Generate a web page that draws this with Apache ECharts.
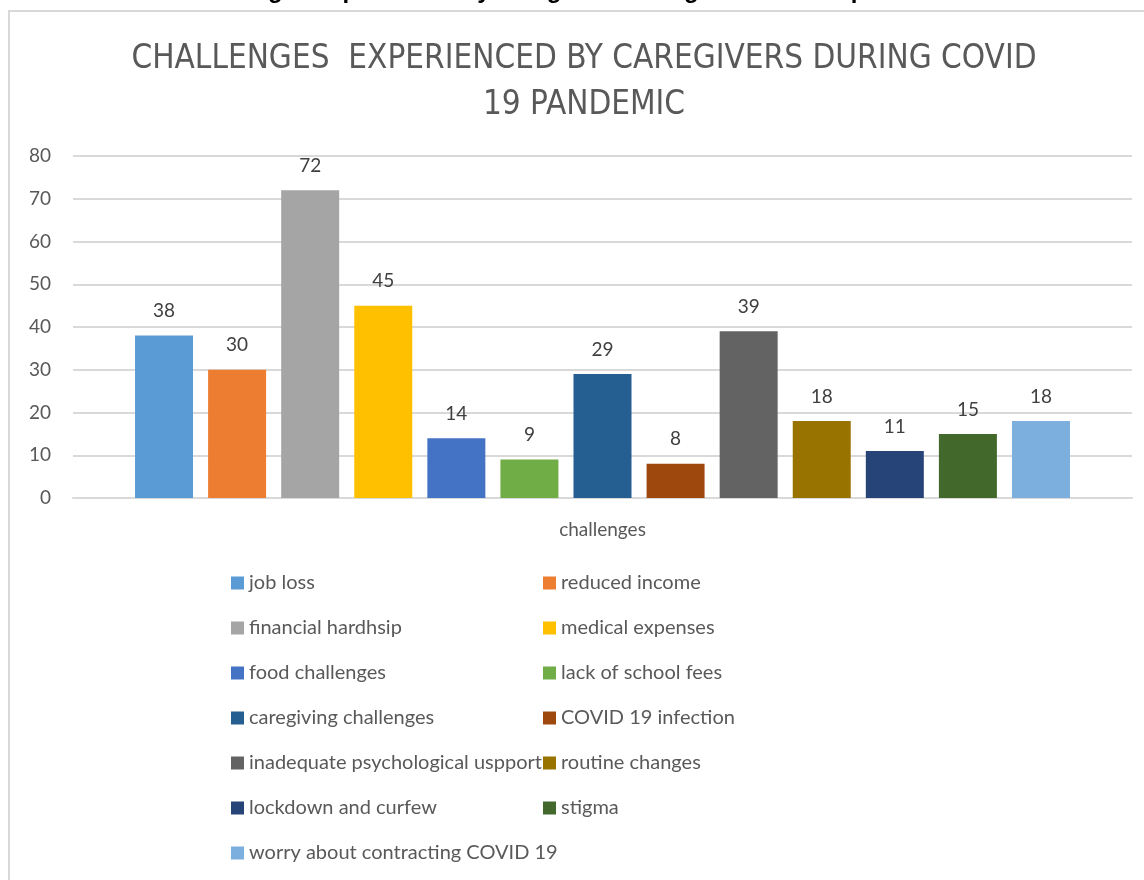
<!DOCTYPE html>
<html><head><meta charset="utf-8">
<script src="https://cdn.jsdelivr.net/npm/echarts@6/dist/echarts.min.js"></script>
<style>html,body{margin:0;padding:0;background:#fff}#c{width:1144px;height:880px}</style>
</head><body><div id="c"></div>
<script>
const categories = ['challenges'];
const seriesNames = ['job loss','reduced income','financial hardhsip','medical expenses','food challenges','lack of school fees','caregiving challenges','COVID 19 infection','inadequate psychological uspport','routine changes','lockdown and curfew','stigma','worry about contracting COVID 19'];
const seriesValues = [38,30,72,45,14,9,29,8,39,18,11,15,18];
const seriesColors = ['#5B9BD5','#ED7D31','#A5A5A5','#FFC000','#4472C4','#70AD47','#255E91','#9E480E','#636363','#997300','#264478','#43682B','#7CAFDD'];
const yTicks = [0,80,10];

const font = 'Lato, "Open Sans", sans-serif';
const chart = echarts.init(document.getElementById('c'));
const series = seriesNames.map((n,i)=>({
  name:n, type:'bar', data:[seriesValues[i]], barWidth:58, barGap:'26%',
  itemStyle:{color:seriesColors[i]},
  label:{show:true, position:'top', distance:15, color:'#404040', fontSize:19, fontFamily:font}
}));
chart.setOption({
  animation:false,
  title:{text:'CHALLENGES  EXPERIENCED BY CAREGIVERS DURING COVID\n19 PANDEMIC', left:579, top:31,
    textAlign:'center',
    textStyle:{fontFamily:'"Liberation Sans Narrow", "DejaVu Sans Condensed", sans-serif', fontWeight:'normal', fontSize:33, color:'#595959', lineHeight:46}},
  grid:{left:73, right:12, top:156, bottom:382, containLabel:false},
  xAxis:{type:'category', data:categories, axisTick:{show:false},
    axisLine:{lineStyle:{color:'#d9d9d9', width:2}},
    axisLabel:{color:'#595959', fontSize:19, fontFamily:font, margin:22}},
  yAxis:{type:'value', min:yTicks[0], max:yTicks[1], interval:yTicks[2],
    axisLabel:{color:'#595959', fontSize:19, fontFamily:font, margin:22},
    splitLine:{lineStyle:{color:'#d9d9d9', width:2}}},
  legend:[
    {data:seriesNames.filter((_,i)=>i%2===0), orient:'vertical', left:226, top:568, itemWidth:13, itemHeight:13, itemGap:25,
     icon:'rect', textStyle:{color:'#595959', fontSize:20, fontFamily:font}},
    {data:seriesNames.filter((_,i)=>i%2===1), orient:'vertical', left:538, top:568, itemWidth:13, itemHeight:13, itemGap:25,
     icon:'rect', textStyle:{color:'#595959', fontSize:20, fontFamily:font}}
  ],
  graphic:[
    {type:'rect', shape:{x:9, y:11, width:1200, height:900}, style:{fill:null, stroke:'#d9d9d9', lineWidth:2}, silent:true},
    {type:'text', x:572, y:-21, style:{text:'Challenges experienced by caregivers during the covid 19 pandemic', align:'center', font:'bold 24px "Liberation Sans", sans-serif', fill:'#000'}, z:-1}
  ],
  series
});
</script></body></html>
